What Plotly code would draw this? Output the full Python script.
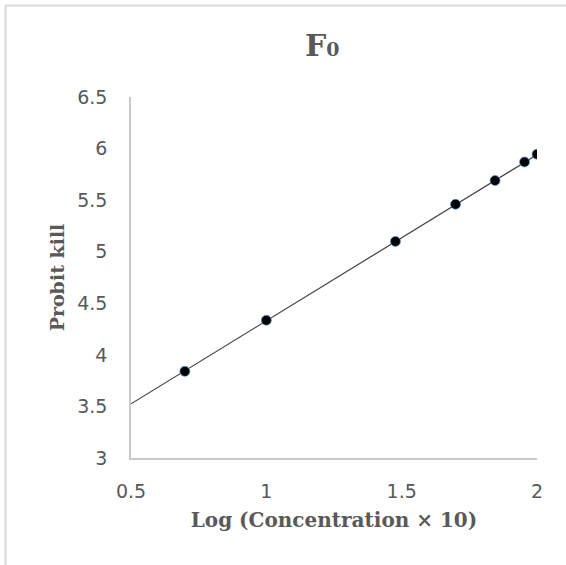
import plotly.graph_objects as go

# Data
log_conc = [0.699, 1.0, 1.477, 1.699, 1.845, 1.954, 2.0]
probit_kill = [3.84, 4.335, 5.10, 5.46, 5.69, 5.87, 5.945]

# Linear trendline endpoints
trend_x = [0.5, 2.0]
trend_y = [3.525, 5.94]

x_ticks = [0.5, 1, 1.5, 2]
x_ticklabels = ["0.5", "1", "1.5", "2"]
y_ticks = [3, 3.5, 4, 4.5, 5, 5.5, 6, 6.5]
y_ticklabels = ["3", "3.5", "4", "4.5", "5", "5.5", "6", "6.5"]

W, H = 566, 565
L, R, T, B = 131, 29, 97, 107
pw, ph = W - L - R, H - T - B

def px_to_paper_x(px):
    return (px - L) / pw

def px_to_paper_y(py):
    return (H - B - py) / ph

fig = go.Figure()

fig.add_trace(go.Scatter(
    x=trend_x, y=trend_y, mode="lines",
    line=dict(color="#404040", width=1.2),
    hoverinfo="skip", showlegend=False,
))

fig.add_trace(go.Scatter(
    x=log_conc, y=probit_kill, mode="markers",
    marker=dict(color="black", size=10,
                line=dict(color="rgba(91,155,213,0.7)", width=1)),
    showlegend=False,
))

axis_font = dict(family="DejaVu Sans, sans-serif", size=19, color="#595959")
xtitle_font = dict(family="DejaVu Serif, serif", size=20, color="#595959")
ytitle_font = dict(family="DejaVu Serif, serif", size=19, color="#595959")

fig.update_layout(
    width=W, height=H,
    margin=dict(l=L, r=R, t=T, b=B, pad=0),
    paper_bgcolor="white", plot_bgcolor="white",
    xaxis=dict(
        range=[0.5, 2.0], tickvals=x_ticks, ticktext=x_ticklabels,
        showgrid=False, zeroline=False, showline=True,
        linecolor="#c9c9c9", linewidth=1.5, ticks="",
        tickfont=axis_font, ticklabelstandoff=15,
        title=dict(text="<b>Log (Concentration × 10)</b>", font=xtitle_font, standoff=12),
    ),
    yaxis=dict(
        range=[3, 6.5], tickvals=y_ticks, ticktext=y_ticklabels,
        showgrid=False, zeroline=False, showline=True,
        linecolor="#c9c9c9", linewidth=1.5, ticks="",
        tickfont=axis_font, ticklabelstandoff=18,
        title=dict(text="<b>Probit kill</b>", font=ytitle_font, standoff=8),
    ),
    annotations=[dict(
        text="<b>F<span style='font-size:19px'>0</span></b>",
        xref="paper", yref="paper",
        x=px_to_paper_x(322), y=px_to_paper_y(45),
        xanchor="center", yanchor="middle", showarrow=False,
        font=dict(family="DejaVu Serif, serif", size=30, color="#595959"),
    )],
    shapes=[
        dict(type="line", xref="paper", yref="paper",
             x0=px_to_paper_x(5.5), x1=px_to_paper_x(570),
             y0=px_to_paper_y(5.5), y1=px_to_paper_y(5.5),
             line=dict(color="#d9d9d9", width=2)),
        dict(type="line", xref="paper", yref="paper",
             x0=px_to_paper_x(5.5), x1=px_to_paper_x(5.5),
             y0=px_to_paper_y(5.5), y1=px_to_paper_y(570),
             line=dict(color="#d9d9d9", width=2)),
    ],
)

fig.write_html("out.html")
